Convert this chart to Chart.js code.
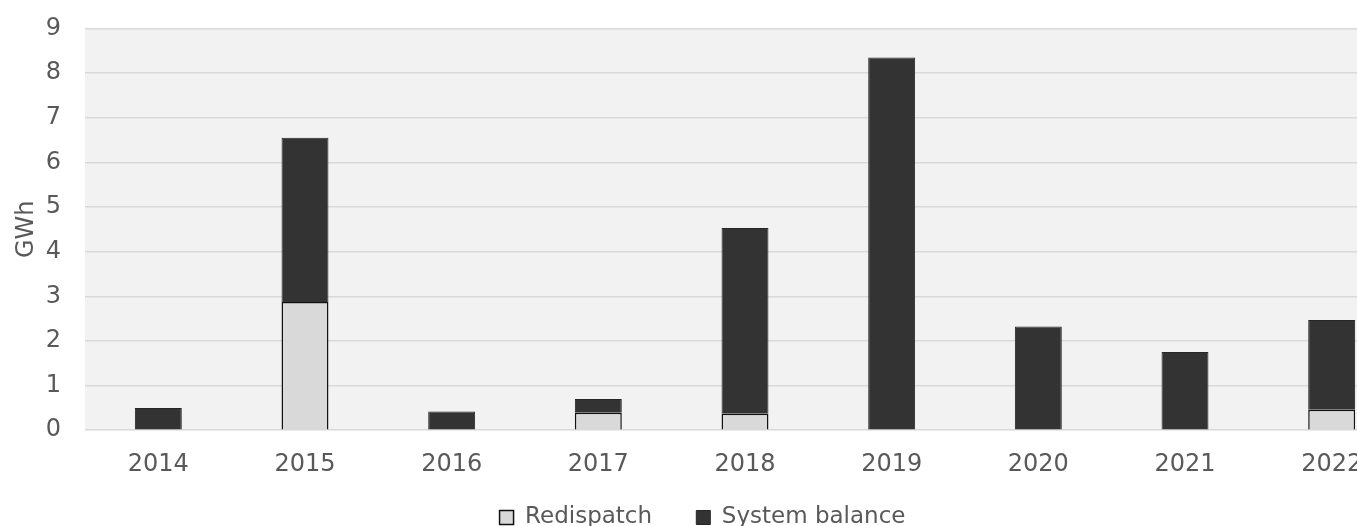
<!DOCTYPE html>
<html>
<head>
<meta charset="utf-8">
<script src="https://cdn.jsdelivr.net/npm/chart.js@4"></script>
<style>
  html, body { margin: 0; padding: 0; background: #fff; overflow: hidden; }
  #wrap { width: 1410px; height: 536px; margin-top: -10px; position: relative; }
</style>
</head>
<body>
<div id="wrap"><canvas id="gwhChart"></canvas></div>
<script>
// yearly volumes, GWh
const years = ['2014', '2015', '2016', '2017', '2018', '2019', '2020', '2021', '2022'];
const redispatch = [0, 2.87, 0, 0.39, 0.37, 0, 0, 0, 0.46];
const systemBalance = [0.5, 3.68, 0.42, 0.31, 4.16, 8.35, 2.32, 1.75, 2.01];
const yTicks = [0, 1, 2, 3, 4, 5, 6, 7, 8, 9];

const FONT = 'DejaVu Sans, Verdana, sans-serif';
const TEXT = '#595959';

// grey plot background behind the bars
const plotBg = {
  id: 'plotBg',
  beforeDraw(chart) {
    const { ctx, chartArea: a } = chart;
    ctx.save();
    ctx.fillStyle = '#f2f2f2';
    ctx.fillRect(a.left, a.top, a.right - a.left, a.bottom - a.top);
    ctx.restore();
  }
};

const ctx = document.getElementById('gwhChart').getContext('2d');
new Chart(ctx, {
  type: 'bar',
  data: {
    labels: years,
    datasets: [
      {
        label: 'Redispatch',
        data: redispatch,
        backgroundColor: '#d9d9d9',
        borderColor: '#111111',
        borderWidth: 1.5
      },
      {
        label: 'System balance',
        data: systemBalance,
        backgroundColor: '#333333',
        borderColor: '#262626',
        borderWidth: 1
      }
    ]
  },
  options: {
    responsive: true,
    maintainAspectRatio: false,
    animation: false,
    layout: { padding: { top: 5, right: 5, left: 0, bottom: -13 } },
    datasets: { bar: { categoryPercentage: 1, barPercentage: 0.32 } },
    scales: {
      x: {
        stacked: true,
        grid: { display: false },
        border: { display: false },
        ticks: { color: TEXT, font: { family: FONT, size: 24 }, padding: 12, maxRotation: 0 }
      },
      y: {
        stacked: true,
        min: yTicks[0],
        max: yTicks[yTicks.length - 1],
        afterBuildTicks: s => { s.ticks = yTicks.map(v => ({ value: v })); },
        afterFit: s => { s.width = 85; },
        grid: { color: '#d9d9d9', lineWidth: 1.5, drawTicks: false },
        border: { display: false },
        ticks: { color: TEXT, font: { family: FONT, size: 24 }, padding: 24 },
        title: { display: true, text: 'GWh', color: TEXT, font: { family: FONT, size: 24 }, padding: { top: 12, bottom: 0 } }
      }
    },
    plugins: {
      tooltip: { enabled: false },
      legend: {
        position: 'bottom',
        labels: {
          color: TEXT,
          font: { family: FONT, size: 23 },
          boxWidth: 14,
          boxHeight: 14,
          padding: 15,
          // a little extra room after every entry but the last
          generateLabels: chart => {
            const items = Chart.defaults.plugins.legend.labels.generateLabels(chart);
            items.forEach((it, i) => { if (i < items.length - 1) it.text += '    '; });
            return items;
          }
        }
      }
    }
  },
  plugins: [plotBg]
});
</script>
</body>
</html>
